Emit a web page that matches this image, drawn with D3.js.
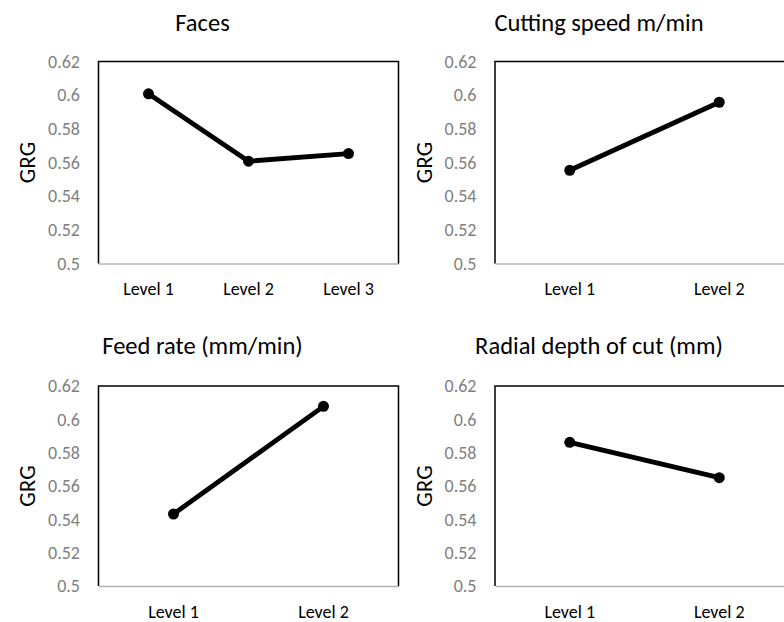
<!DOCTYPE html>
<html>
<head>
<meta charset="utf-8">
<script src="https://cdn.jsdelivr.net/npm/d3@7"></script>
<style>
  html, body { margin: 0; padding: 0; background: #fff; }
  svg { display: block; }
  text { font-family: Carlito, Calibri, "Open Sans", sans-serif; }
</style>
</head>
<body>
<svg id="chart" width="784" height="622"></svg>
<script>
// ---- Data ----
const titles = ["Faces", "Cutting speed m/min", "Feed rate (mm/min)", "Radial depth of cut (mm)"];
const facesLevels = ["Level 1", "Level 2", "Level 3"];
const facesValues = [0.6008, 0.5608, 0.5653];
const speedLevels = ["Level 1", "Level 2"];
const speedValues = [0.5554, 0.5958];
const feedLevels = ["Level 1", "Level 2"];
const feedValues = [0.5432, 0.6078];
const depthLevels = ["Level 1", "Level 2"];
const depthValues = [0.5862, 0.5650];
const yTicks = [0.5, 0.52, 0.54, 0.56, 0.58, 0.6, 0.62];
const yLabel = "GRG";

const panels = [
  { title: titles[0], cats: facesLevels, vals: facesValues, box: [98.5, 61.5, 398.5, 263.5], titleX: 202.5, titleY: 31, labelX: 27 },
  { title: titles[1], cats: speedLevels, vals: speedValues, box: [495, 61.5, 794, 263.5], titleX: 599, titleY: 31, labelX: 424 },
  { title: titles[2], cats: feedLevels, vals: feedValues, box: [98.5, 386, 398.5, 586], titleX: 202.5, titleY: 354, labelX: 27 },
  { title: titles[3], cats: depthLevels, vals: depthValues, box: [495, 386, 794, 586], titleX: 599, titleY: 354, labelX: 424 }
];

const FONT = 'Carlito, Calibri, "Open Sans", sans-serif';
const svg = d3.select("#chart");

panels.forEach((p, i) => {
  const [x0, y0, x1, y1] = p.box;
  const g = svg.append("g");

  const x = d3.scaleBand().domain(p.cats).range([x0, x1]);
  const y = d3.scaleLinear().domain([0.5, 0.62]).range([y1, y0]);

  // title
  g.append("text")
    .attr("x", p.titleX).attr("y", p.titleY)
    .attr("text-anchor", "middle")
    .attr("font-size", 24.5)
    .attr("fill", "#000")
    .text(p.title);

  // y axis label
  g.append("text")
    .attr("transform", `translate(${p.labelX},${(y0 + y1) / 2}) rotate(-90)`)
    .attr("text-anchor", "middle")
    .attr("dy", "0.35em")
    .attr("font-size", 23)
    .attr("fill", "#000")
    .text(yLabel);

  // y axis tick labels
  const yAxis = d3.axisLeft(y).tickValues(yTicks).tickSize(0).tickPadding(18.5)
    .tickFormat(d => String(+d.toFixed(2)));
  const ya = g.append("g").attr("transform", `translate(${x0},0)`).call(yAxis);
  ya.select(".domain").remove();
  ya.selectAll("text").attr("font-size", 18).attr("fill", "#7f7f7f")
    .style("font-family", FONT);

  // x axis
  const xAxis = d3.axisBottom(x).tickSize(0).tickPadding(19);
  const xa = g.append("g").attr("transform", `translate(0,${y1})`).call(xAxis);
  xa.select(".domain").attr("stroke", "#b3b3b3").attr("stroke-width", 1.5);
  xa.selectAll("text").attr("font-size", 18).attr("fill", "#000")
    .style("font-family", FONT);

  // plot border (top, left, right)
  g.append("path")
    .attr("d", `M${x0},${y1} L${x0},${y0} L${x1},${y0} L${x1},${y1}`)
    .attr("fill", "none").attr("stroke", "#000").attr("stroke-width", 1.5);

  // series line
  const data = p.cats.map((c, k) => ({ c, v: p.vals[k] }));
  const line = d3.line().x(d => x(d.c) + x.bandwidth() / 2).y(d => y(d.v));
  g.append("path").datum(data)
    .attr("d", line)
    .attr("fill", "none").attr("stroke", "#000").attr("stroke-width", 4.8)
    .attr("stroke-linejoin", "round");
  g.selectAll("circle").data(data).enter().append("circle")
    .attr("cx", d => x(d.c) + x.bandwidth() / 2)
    .attr("cy", d => y(d.v))
    .attr("r", 5.5).attr("fill", "#000");
});
</script>
</body>
</html>
